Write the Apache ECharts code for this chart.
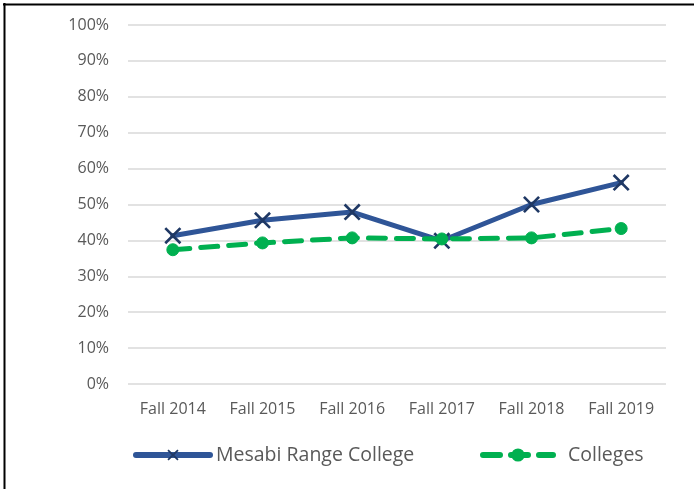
<!DOCTYPE html>
<html>
<head>
<meta charset="utf-8">
<script src="https://cdn.jsdelivr.net/npm/echarts@6/dist/echarts.min.js"></script>
<style>
html,body{margin:0;padding:0;background:#fff;}
#chart{width:694px;height:489px;}
</style>
</head>
<body>
<div id="chart"></div>
<script>
const categories = ['Fall 2014', 'Fall 2015', 'Fall 2016', 'Fall 2017', 'Fall 2018', 'Fall 2019'];
const mesabi = [41.3, 45.6, 47.9, 39.9, 50.0, 56.1];
const colleges = [37.4, 39.3, 40.7, 40.4, 40.7, 43.3];
const seriesNames = ['Mesabi Range College', 'Colleges'];

const FONT = 'Open Sans';
const XPATH = 'path://M0,1.1L1.1,0L10,8.9L8.9,10Z M8.9,0L10,1.1L1.1,10L0,8.9Z';

const chart = echarts.init(document.getElementById('chart'));
chart.setOption({
  animation: false,
  backgroundColor: '#fff',
  textStyle: { fontFamily: FONT },
  grid: { left: 128, right: 28, top: 25, bottom: 105, containLabel: false },
  xAxis: {
    type: 'category',
    data: categories,
    boundaryGap: true,
    axisLine: { show: false },
    axisTick: { show: false },
    axisLabel: { color: '#595959', fontSize: 16, fontFamily: FONT, margin: 17 }
  },
  yAxis: {
    type: 'value',
    min: 0, max: 100, interval: 10,
    axisLine: { show: false },
    axisTick: { show: false },
    splitLine: { lineStyle: { color: '#D9D9D9', width: 1.5 } },
    axisLabel: { color: '#595959', fontSize: 16, fontFamily: FONT, margin: 19, formatter: '{value}%' }
  },
  legend: [
    {
      data: [seriesNames[0]], left: 133, top: 445, padding: 0,
      itemWidth: 74, itemHeight: 14,
      lineStyle: { width: 6, cap: 'round' },
      textStyle: { color: '#595959', fontSize: 19.5, fontFamily: FONT, padding: [0, 0, 0, 1] }
    },
    {
      data: [seriesNames[1]], left: 480, top: 445, padding: 0,
      itemWidth: 70, itemHeight: 14,
      lineStyle: { width: 6, cap: 'round' },
      textStyle: { color: '#595959', fontSize: 19.5, fontFamily: FONT, padding: [0, 0, 0, 10] }
    }
  ],
  series: [
    {
      name: seriesNames[0], type: 'line', data: mesabi,
      lineStyle: { color: '#2F5597', width: 5, cap: 'round' },
      symbol: XPATH, symbolSize: 17,
      itemStyle: { color: '#1F3864', borderWidth: 0 },
      z: 2
    },
    {
      name: seriesNames[1], type: 'line', data: colleges,
      lineStyle: { color: '#00B050', width: 5, type: [17, 11], cap: 'round' },
      symbol: 'circle', symbolSize: 12,
      itemStyle: { color: '#00B050', borderColor: '#00B050', borderWidth: 1 },
      z: 3
    }
  ],
  graphic: [
    { type: 'line', shape: { x1: 3, y1: 4.5, x2: 694, y2: 4.5 }, style: { stroke: '#000', lineWidth: 2 } },
    { type: 'line', shape: { x1: 4.5, y1: 3, x2: 4.5, y2: 489 }, style: { stroke: '#000', lineWidth: 2 } }
  ]
});
</script>
</body>
</html>
